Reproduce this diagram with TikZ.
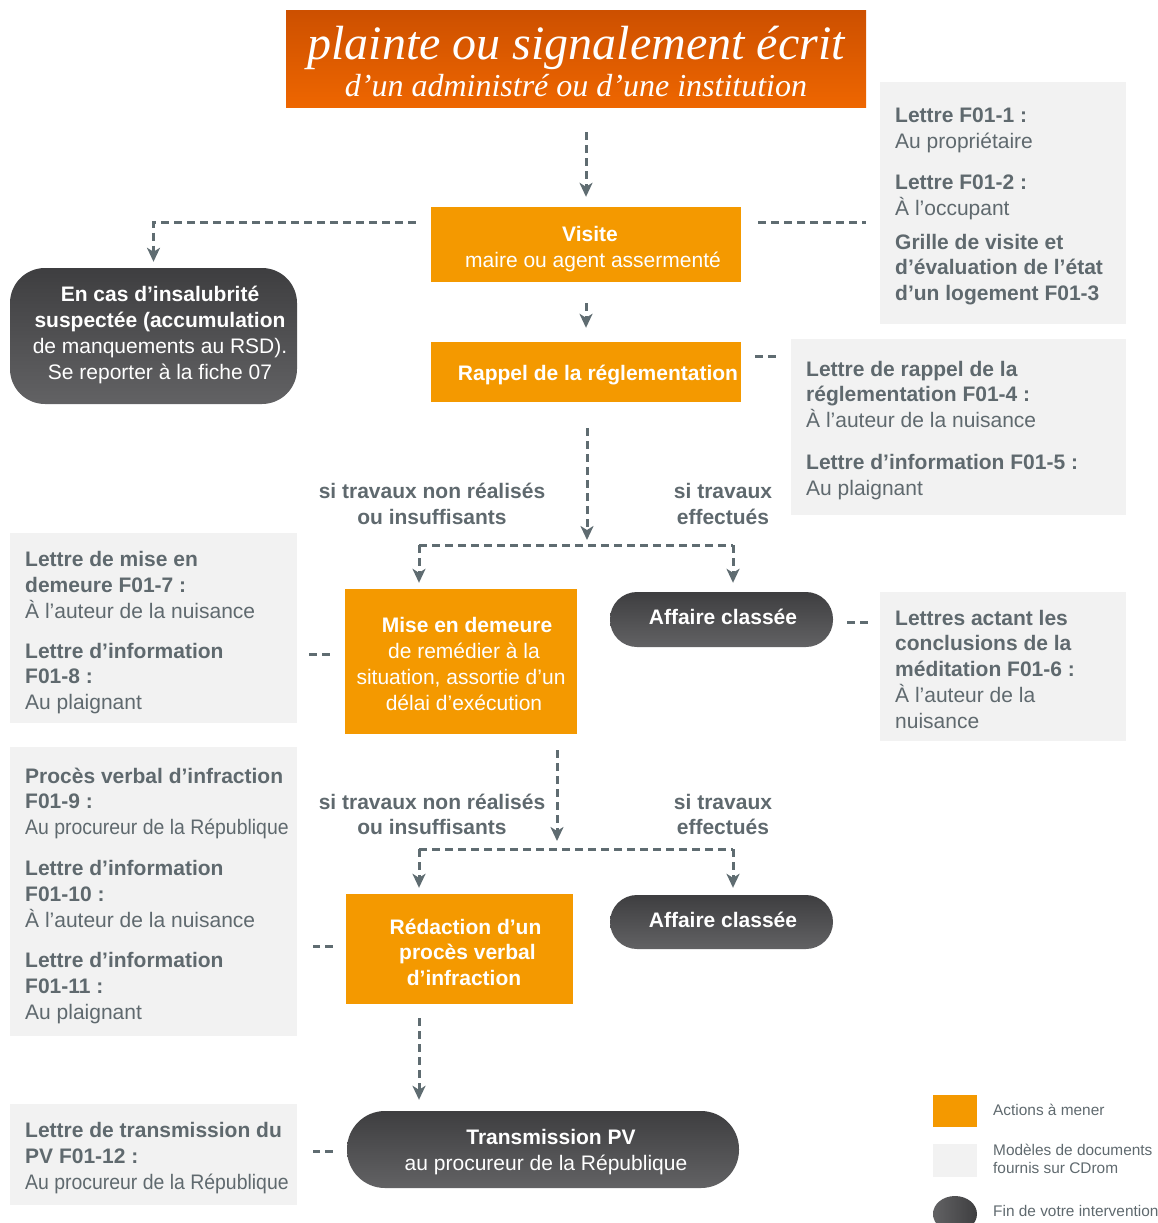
\documentclass[tikz,border=0pt]{standalone}
\usepackage{graphicx}
\usepackage{fontspec}
\setmainfont{Liberation Sans}
\newfontfamily\titlefont{Liberation Serif}
\usetikzlibrary{positioning, arrows.meta, shapes.geometric}

\definecolor{actorange}{RGB}{244,153,0}
\definecolor{docgray}{RGB}{242,242,242}
\definecolor{txtgray}{RGB}{95,105,110}
\definecolor{linegray}{RGB}{95,108,113}
\definecolor{darktop}{RGB}{62,62,64}
\definecolor{darkbot}{RGB}{98,98,100}
\definecolor{titletop}{RGB}{205,80,0}
\definecolor{titlebot}{RGB}{238,102,0}

\tikzset{
  action/.style={fill=actorange, text=white, align=center, inner sep=0pt,
    font=\fontsize{21}{26}\selectfont},
  endbox/.style={top color=darktop, bottom color=darkbot, text=white, align=center,
    inner sep=0pt, font=\fontsize{21}{26}\selectfont},
  docbox/.style={fill=docgray, anchor=north west, inner sep=0pt},
  doctext/.style={anchor=west, align=left, text=txtgray, inner sep=0pt,
    font=\fontsize{21}{25.8}\selectfont},
  cond/.style={align=center, text=txtgray, inner sep=0pt,
    font=\bfseries\fontsize{21}{25.5}\selectfont},
  legtext/.style={anchor=west, align=left, text=txtgray, inner sep=0pt,
    font=\fontsize{15.4}{18}\selectfont},
  link/.style={draw=linegray, line width=3pt, dash pattern=on 8pt off 5pt},
  flow/.style={link, -{Stealth[length=14pt, width=13pt, inset=4pt]}},
}

\newcommand{\uppad}[1]{\rule{0pt}{#1}}
\newcommand{\downpad}[1]{\rule[-#1]{0pt}{#1}}

\begin{document}
\begin{tikzpicture}[x=1pt, y=-1pt]
\useasboundingbox (0,0) rectangle (1158,1223);

% title
\node[top color=titletop, bottom color=titlebot, minimum width=580pt, minimum height=96pt,
  inner sep=0pt, text=white, align=center, font=\titlefont\itshape\fontsize{32}{37}\selectfont]
  (title) at (576,59)
  {\uppad{39pt}{\fontsize{48}{52}\selectfont plainte ou signalement écrit}\\d’un administré ou d’une institution};

%% actions
\node[action, minimum width=310pt, minimum height=75pt] (visite) at (586,244.5)
  {\uppad{23.5pt}\hspace*{8pt}\textbf{Visite}\\\hspace*{14pt}maire ou agent assermenté};
\node[action, minimum width=310pt, minimum height=60pt] (rappel) at (586,372)
  {\uppad{21.5pt}\hspace*{24pt}\textbf{Rappel de la réglementation}};
\node[action, minimum width=232pt, minimum height=145pt] (mise) at (461,661.5)
  {\uppad{19.5pt}\hspace*{12pt}\textbf{Mise en demeure}\\\hspace*{6pt}de remédier à la\\
   situation, assortie d’un\\\hspace*{6pt}délai d’exécution};
\node[action, minimum width=227pt, minimum height=110pt, font=\bfseries\fontsize{21}{25.5}\selectfont]
  (redac) at (459.5,949)
  {\uppad{22pt}\hspace*{12pt}Rédaction d’un\\\hspace*{16pt}procès verbal\\\hspace*{9pt}d’infraction};

%% end of intervention
\node[endbox, rounded corners=35pt, minimum width=287pt, minimum height=136pt, align=none] (insal) at (153.5,336)
  {\hspace*{13pt}\begin{tabular}{@{}c@{}}\textbf{En cas d’insalubrité}\\\textbf{suspectée (accumulation}\\
   de manquements au RSD).\\Se reporter à la fiche 07\downpad{9pt}\end{tabular}};
\node[endbox, rounded corners=27pt, minimum width=223pt, minimum height=55pt] (aff1) at (721.5,619.5)
  {\hspace*{3pt}\textbf{Affaire classée}\downpad{6pt}};
\node[endbox, rounded corners=27pt, minimum width=223pt, minimum height=54pt] (aff2) at (721.5,922)
  {\hspace*{3pt}\textbf{Affaire classée}\downpad{4pt}};
\node[endbox, rounded corners=38pt, minimum width=392pt, minimum height=77pt] (trans) at (543,1149.5)
  {\uppad{21pt}\hspace*{16pt}\textbf{Transmission PV}\\\hspace*{6pt}au procureur de la République};

%% document models
\node[docbox, minimum width=246pt, minimum height=242pt] (doc1) at (880,82) {};
\node[doctext] (doc1txt) at ([shift={(15,3.5)}]doc1.west)
  {\textbf{Lettre F01-1 :}\\Au propriétaire\\[15pt]\textbf{Lettre F01-2 :}\\À l’occupant\\[8pt]%
   \textbf{Grille de visite et}\\\textbf{d’évaluation de l’état}\\\textbf{d’un logement F01-3}};

\node[docbox, minimum width=335pt, minimum height=176pt] (doc2) at (791,339) {};
\node[doctext] (doc2txt) at ([shift={(15,3)}]doc2.west)
  {\textbf{Lettre de rappel de la}\\\textbf{réglementation F01-4 :}\\À l’auteur de la nuisance\\[16pt]%
   \textbf{Lettre d’information F01-5 :}\\Au plaignant};

\node[docbox, minimum width=287pt, minimum height=190pt] (doc3) at (10,533) {};
\node[doctext] (doc3txt) at ([shift={(15,4.5)}]doc3.west)
  {\textbf{Lettre de mise en}\\\textbf{demeure F01-7 :}\\À l’auteur de la nuisance\\[14pt]%
   \textbf{Lettre d’information}\\\textbf{F01-8 :}\\Au plaignant};

\node[docbox, minimum width=246pt, minimum height=149pt] (doc4) at (880,592) {};
\node[doctext] (doc4txt) at ([shift={(15,2.5)}]doc4.west)
  {\textbf{Lettres actant les}\\\textbf{conclusions de la}\\\textbf{méditation F01-6 :}\\À l’auteur de la\\nuisance};

\node[docbox, minimum width=287pt, minimum height=289pt] (doc5) at (10,747) {};
\node[doctext] (doc5txt) at ([shift={(15,4)}]doc5.west)
  {\textbf{Procès verbal d’infraction}\\\textbf{F01-9 :}\\\scalebox{0.925}[1]{Au procureur de la République}\\[15pt]%
   \textbf{Lettre d’information}\\\textbf{F01-10 :}\\À l’auteur de la nuisance\\[15pt]%
   \textbf{Lettre d’information}\\\textbf{F01-11 :}\\Au plaignant};

\node[docbox, minimum width=287pt, minimum height=101pt] (doc6) at (10,1104) {};
\node[doctext] (doc6txt) at ([shift={(15,3.5)}]doc6.west)
  {\textbf{Lettre de transmission du}\\\textbf{PV F01-12 :}\\\scalebox{0.925}[1]{Au procureur de la République}};

%% conditions
\node[cond] (cond1a) at (432,504) {si travaux non réalisés\\ou insuffisants};
\node[cond] (cond1b) at (723,504) {si travaux\\effectués};
\node[cond] (cond2a) at (432,814.5) {si travaux non réalisés\\ou insuffisants};
\node[cond] (cond2b) at (723,814.5) {si travaux\\effectués};

% branch points
\coordinate (j1) at (587,545);
\coordinate (j1l) at (419,545);
\coordinate (j1r) at (733,545);
\coordinate (j2) at (557,849);
\coordinate (j2l) at (419,849);
\coordinate (j2r) at (733,849);

%% connectors
\draw[flow, shorten <=25pt, shorten >=10pt] (title.south -| visite.north) -- (visite.north);
\draw[flow, shorten <=21pt, shorten >=14pt] (visite.south) -- (rappel.north);
\draw[flow, shorten >=6pt] ([shift={(-15,-22.5)}]visite.west) -| (insal.north);
\draw[link] ([shift={(17,-22.5)}]visite.east) -- ++(108,0);

\draw[flow, shorten <=26pt, shorten >=5pt] (rappel.south -| j1) -- (j1);
\draw[link] (j1l) -- (j1r);
\draw[flow, shorten >=6pt] (j1l) -- (j1l |- mise.north);
\draw[flow, shorten >=9pt] (j1r) -- (j1r |- aff1.north);

\draw[flow, shorten <=16pt, shorten >=8pt] (mise.south -| j2) -- (j2);
\draw[link] (j2l) -- (j2r);
\draw[flow, shorten >=6pt] (j2l) -- (j2l |- redac.north);
\draw[flow, shorten >=7pt] (j2r) -- (j2r |- aff2.north);

\draw[flow, shorten <=14pt, shorten >=11pt] (redac.south -| j2l) -- (trans.north -| j2l);

% short links to the documents
\draw[link] ([shift={(14,-16)}]rappel.east) -- ++(22,0);
\draw[link] ([shift={(-15,-7.5)}]mise.west) -- ++(-22,0);
\draw[link] ([shift={(14,2.5)}]aff1.east) -- ++(22,0);
\draw[link] ([shift={(-13,-3)}]redac.west) -- ++(-20,0);
\draw[link] ([shift={(-14,1.5)}]trans.west) -- ++(-20,0);

%% legend
\node[fill=actorange, minimum width=44pt, minimum height=32pt, inner sep=0pt] (leg1) at (955,1111) {};
\node[legtext] (leg1txt) at (993,1110) {Actions à mener};
\node[fill=docgray, minimum width=44pt, minimum height=33pt, inner sep=0pt] (leg2) at (955,1160.5) {};
\node[legtext] (leg2txt) at (993,1159) {Modèles de documents\\fournis sur CDrom};
\node[ellipse, left color=darkbot, right color=darktop, minimum width=44pt, minimum height=36pt,
  inner sep=0pt] (leg3) at (955,1214) {};
\node[legtext] (leg3txt) at (993,1211) {Fin de votre intervention};

\end{tikzpicture}
\end{document}
